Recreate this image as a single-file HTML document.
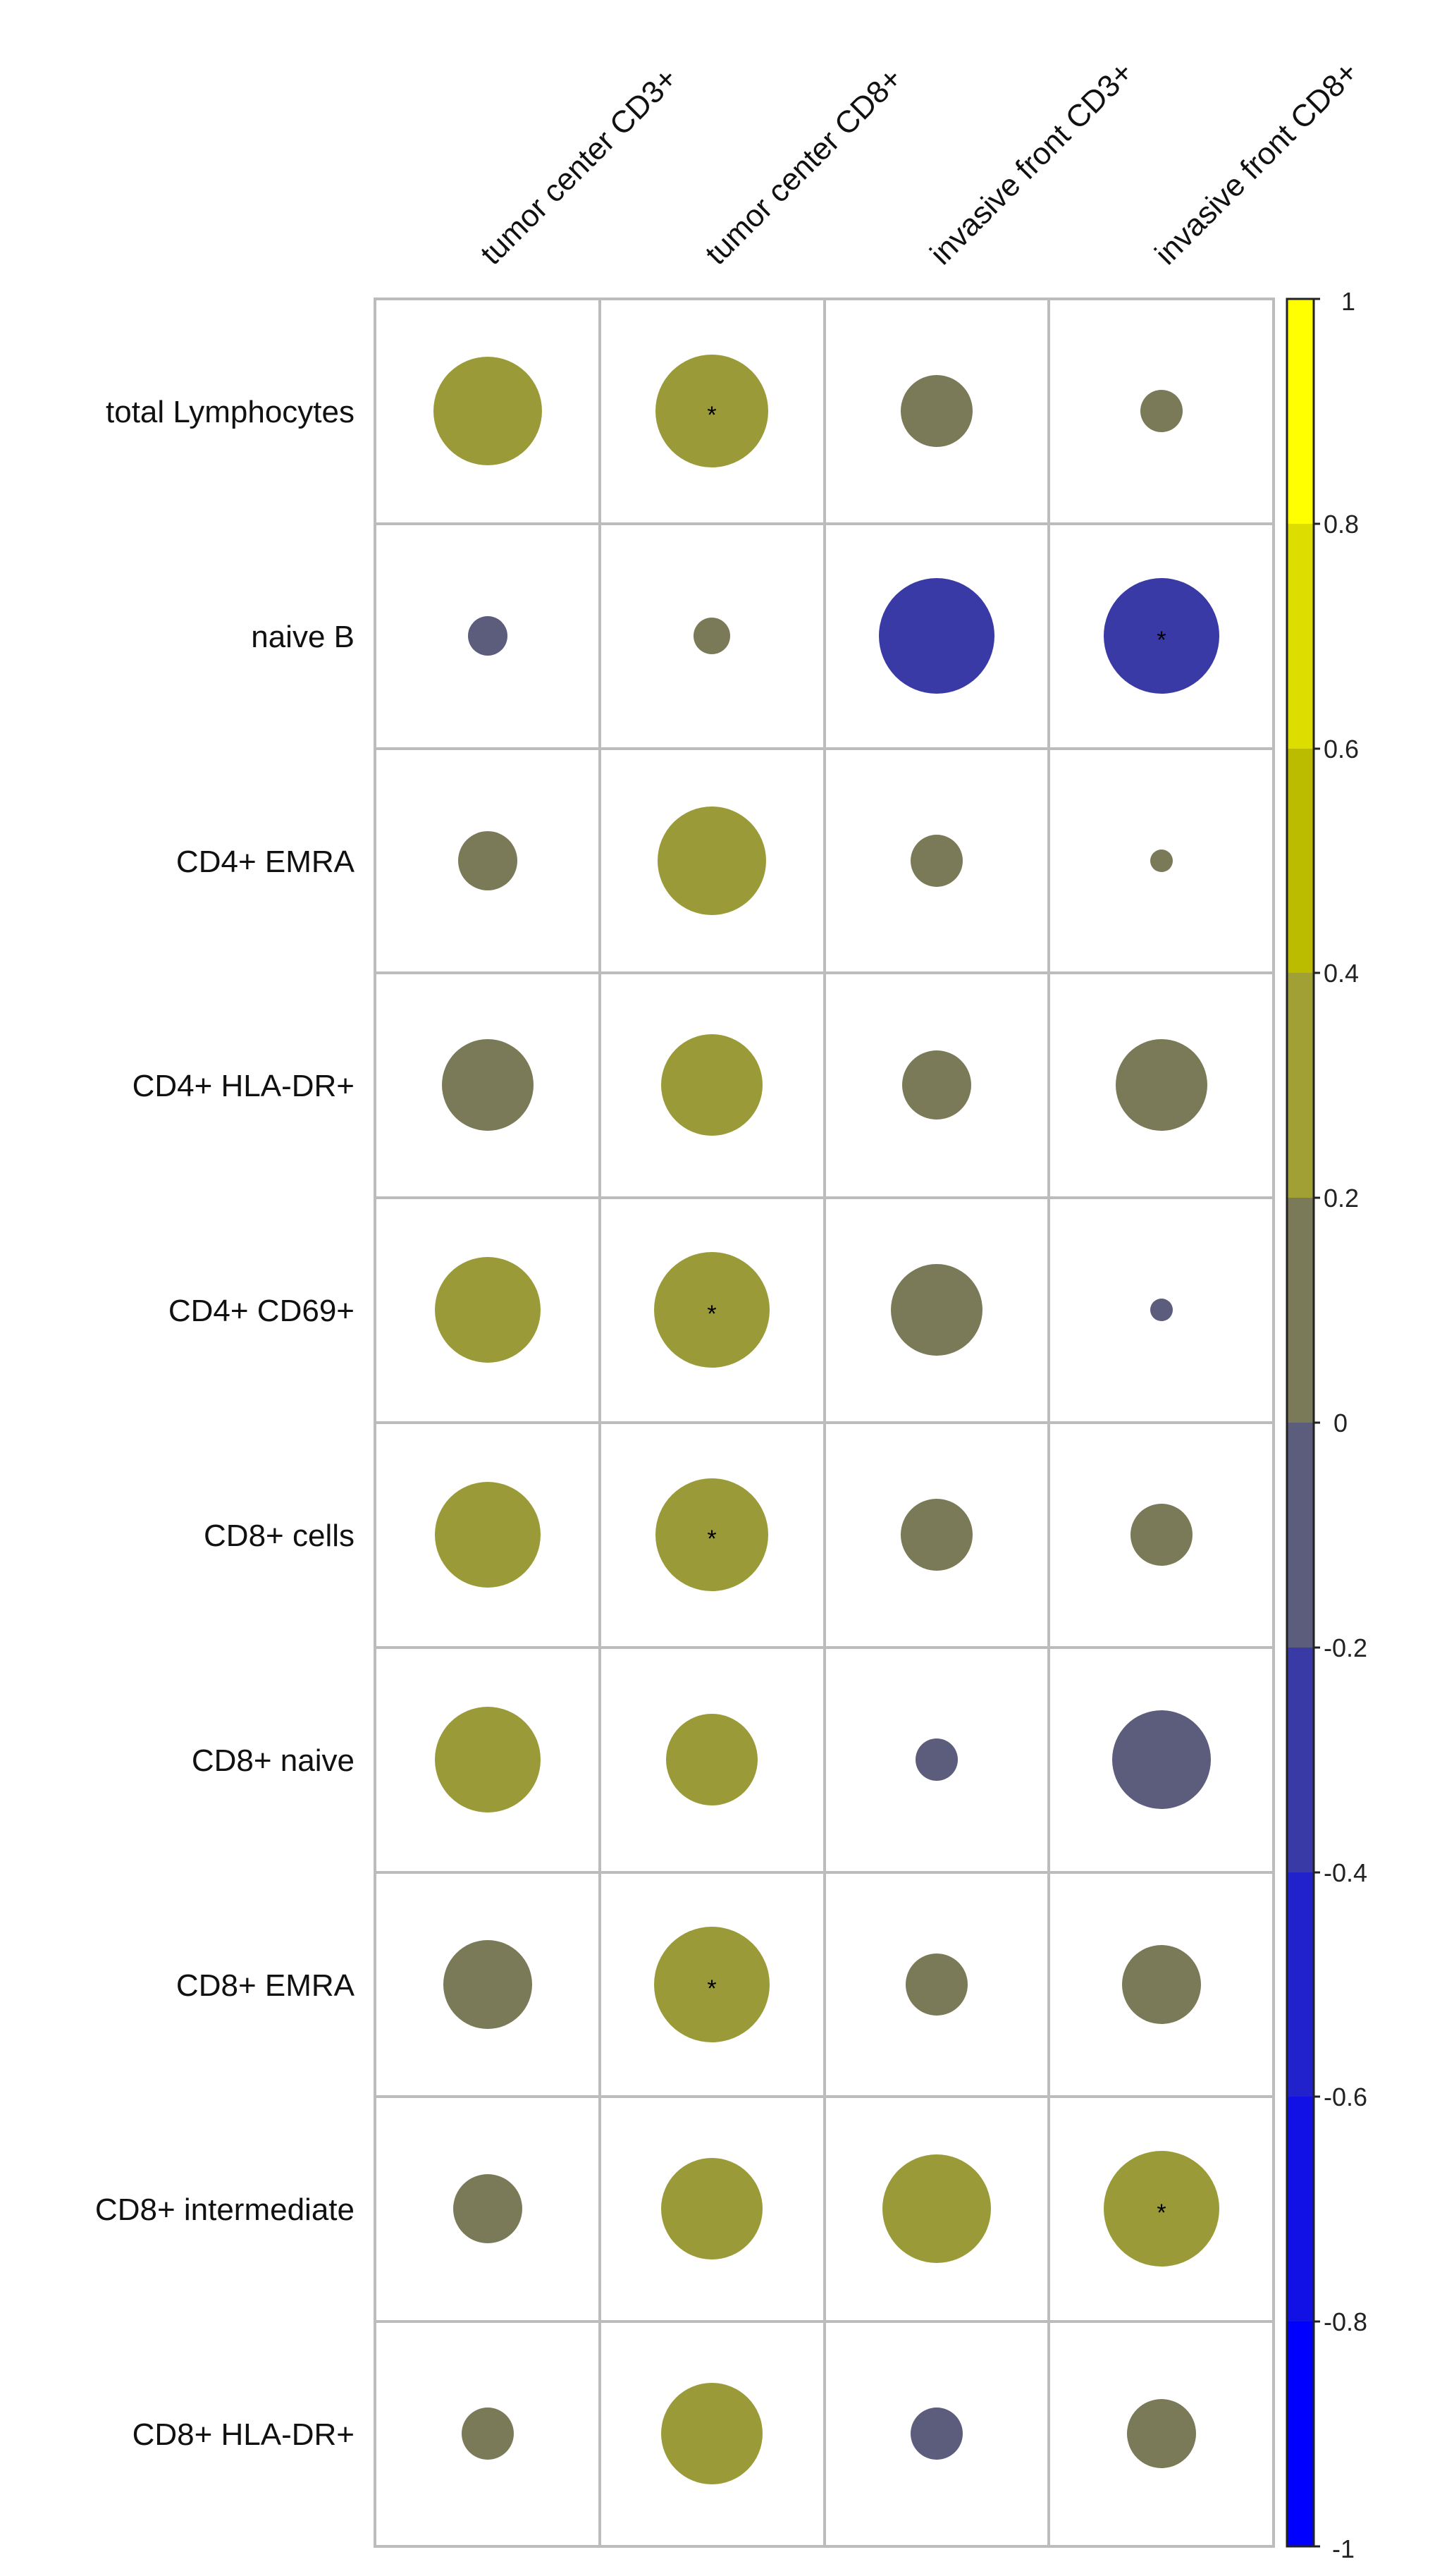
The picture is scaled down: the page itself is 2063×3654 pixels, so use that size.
<!DOCTYPE html>
<html><head><meta charset="utf-8"><style>html,body{margin:0;padding:0;background:#fff}svg{display:block}</style></head>
<body>
<svg width="2063" height="3654" viewBox="0 0 2063 3654" xmlns="http://www.w3.org/2000/svg" font-family="Liberation Sans, Arial, sans-serif">
<rect width="2063" height="3654" fill="#fff"/>
<g id="grid" stroke="#bcbcbc" stroke-width="4" fill="none">
<rect x="532" y="424" width="1275" height="3188"/>
<line x1="851" y1="424" x2="851" y2="3612"/><line x1="1170" y1="424" x2="1170" y2="3612"/><line x1="1488" y1="424" x2="1488" y2="3612"/>
<line x1="532" y1="743" x2="1807" y2="743"/><line x1="532" y1="1062" x2="1807" y2="1062"/><line x1="532" y1="1380" x2="1807" y2="1380"/><line x1="532" y1="1699" x2="1807" y2="1699"/><line x1="532" y1="2018" x2="1807" y2="2018"/><line x1="532" y1="2337" x2="1807" y2="2337"/><line x1="532" y1="2656" x2="1807" y2="2656"/><line x1="532" y1="2974" x2="1807" y2="2974"/><line x1="532" y1="3293" x2="1807" y2="3293"/>
</g>
<g font-size="44" fill="#111" text-anchor="end">
<text x="503" y="599">total Lymphocytes</text>
<text x="503" y="918">naive B</text>
<text x="503" y="1237">CD4+ EMRA</text>
<text x="503" y="1555">CD4+ HLA-DR+</text>
<text x="503" y="1874">CD4+ CD69+</text>
<text x="503" y="2193">CD8+ cells</text>
<text x="503" y="2512">CD8+ naive</text>
<text x="503" y="2831">CD8+ EMRA</text>
<text x="503" y="3149">CD8+ intermediate</text>
<text x="503" y="3468">CD8+ HLA-DR+</text>
</g>
<g font-size="44" fill="#111">
<text transform="translate(700,378) rotate(-45)">tumor center CD3+</text>
<text transform="translate(1019,378) rotate(-45)">tumor center CD8+</text>
<text transform="translate(1338,378) rotate(-45)">invasive front CD3+</text>
<text transform="translate(1657,378) rotate(-45)">invasive front CD8+</text>
</g>
<g>
<!-- row1 y=583 -->
<circle cx="692" cy="583" r="77" fill="#9a9b38"/><circle cx="1010" cy="583" r="80" fill="#9a9b38"/><circle cx="1329" cy="583" r="51" fill="#7a7a58"/><circle cx="1648" cy="583" r="30" fill="#7a7a58"/>
<!-- row2 y=902 -->
<circle cx="692" cy="902" r="28" fill="#5c5c7c"/><circle cx="1010" cy="902" r="26" fill="#7a7a58"/><circle cx="1329" cy="902" r="82" fill="#3a3aa6"/><circle cx="1648" cy="902" r="82" fill="#3a3aa6"/>
<!-- row3 y=1221 -->
<circle cx="692" cy="1221" r="42" fill="#7a7a58"/><circle cx="1010" cy="1221" r="77" fill="#9a9b38"/><circle cx="1329" cy="1221" r="37" fill="#7a7a58"/><circle cx="1648" cy="1221" r="16" fill="#7a7a58"/>
<!-- row4 y=1539 -->
<circle cx="692" cy="1539" r="65" fill="#7a7a58"/><circle cx="1010" cy="1539" r="72" fill="#9a9b38"/><circle cx="1329" cy="1539" r="49" fill="#7a7a58"/><circle cx="1648" cy="1539" r="65" fill="#7a7a58"/>
<!-- row5 y=1858 -->
<circle cx="692" cy="1858" r="75" fill="#9a9b38"/><circle cx="1010" cy="1858" r="82" fill="#9a9b38"/><circle cx="1329" cy="1858" r="65" fill="#7a7a58"/><circle cx="1648" cy="1858" r="16" fill="#5c5c7c"/>
<!-- row6 y=2177 -->
<circle cx="692" cy="2177" r="75" fill="#9a9b38"/><circle cx="1010" cy="2177" r="80" fill="#9a9b38"/><circle cx="1329" cy="2177" r="51" fill="#7a7a58"/><circle cx="1648" cy="2177" r="44" fill="#7a7a58"/>
<!-- row7 y=2496 -->
<circle cx="692" cy="2496" r="75" fill="#9a9b38"/><circle cx="1010" cy="2496" r="65" fill="#9a9b38"/><circle cx="1329" cy="2496" r="30" fill="#5c5c7c"/><circle cx="1648" cy="2496" r="70" fill="#5c5c7c"/>
<!-- row8 y=2815 -->
<circle cx="692" cy="2815" r="63" fill="#7a7a58"/><circle cx="1010" cy="2815" r="82" fill="#9a9b38"/><circle cx="1329" cy="2815" r="44" fill="#7a7a58"/><circle cx="1648" cy="2815" r="56" fill="#7a7a58"/>
<!-- row9 y=3133 -->
<circle cx="692" cy="3133" r="49" fill="#7a7a58"/><circle cx="1010" cy="3133" r="72" fill="#9a9b38"/><circle cx="1329" cy="3133" r="77" fill="#9a9b38"/><circle cx="1648" cy="3133" r="82" fill="#9a9b38"/>
<!-- row10 y=3452 -->
<circle cx="692" cy="3452" r="37" fill="#7a7a58"/><circle cx="1010" cy="3452" r="72" fill="#9a9b38"/><circle cx="1329" cy="3452" r="37" fill="#5c5c7c"/><circle cx="1648" cy="3452" r="49" fill="#7a7a58"/>
</g>
<g font-size="34" fill="#000" text-anchor="middle">
<text x="1010" y="600">*</text><text x="1648" y="919">*</text><text x="1010" y="1875">*</text><text x="1010" y="2194">*</text><text x="1010" y="2832">*</text><text x="1648" y="3150">*</text>
</g>
<g>
<rect x="1826" y="424" width="38" height="319" fill="#ffff00"/>
<rect x="1826" y="743" width="38" height="319" fill="#dddd00"/>
<rect x="1826" y="1062" width="38" height="318" fill="#bbbb00"/>
<rect x="1826" y="1380" width="38" height="319" fill="#a0a035"/>
<rect x="1826" y="1699" width="38" height="319" fill="#7a7a58"/>
<rect x="1826" y="2018" width="38" height="319" fill="#5c5c7c"/>
<rect x="1826" y="2337" width="38" height="319" fill="#3a3aa6"/>
<rect x="1826" y="2656" width="38" height="318" fill="#2222cc"/>
<rect x="1826" y="2974" width="38" height="319" fill="#1111e6"/>
<rect x="1826" y="3293" width="38" height="319" fill="#0000ff"/>
<rect x="1826" y="424" width="38" height="3188" fill="none" stroke="#222" stroke-width="3"/>
</g>
<g stroke="#222" stroke-width="3">
<line x1="1864" y1="424" x2="1873" y2="424"/><line x1="1864" y1="743" x2="1873" y2="743"/><line x1="1864" y1="1062" x2="1873" y2="1062"/><line x1="1864" y1="1380" x2="1873" y2="1380"/><line x1="1864" y1="1699" x2="1873" y2="1699"/><line x1="1864" y1="2018" x2="1873" y2="2018"/><line x1="1864" y1="2337" x2="1873" y2="2337"/><line x1="1864" y1="2656" x2="1873" y2="2656"/><line x1="1864" y1="2974" x2="1873" y2="2974"/><line x1="1864" y1="3293" x2="1873" y2="3293"/><line x1="1864" y1="3612" x2="1873" y2="3612"/>
</g>
<g font-size="36" fill="#222">
<text x="1903" y="440">1</text>
<text x="1878" y="756">0.8</text>
<text x="1878" y="1075">0.6</text>
<text x="1878" y="1393">0.4</text>
<text x="1878" y="1712">0.2</text>
<text x="1892" y="2031">0</text>
<text x="1878" y="2350">-0.2</text>
<text x="1878" y="2669">-0.4</text>
<text x="1878" y="2987">-0.6</text>
<text x="1878" y="3306">-0.8</text>
<text x="1890" y="3628">-1</text>
</g>
</svg>
</body></html>
